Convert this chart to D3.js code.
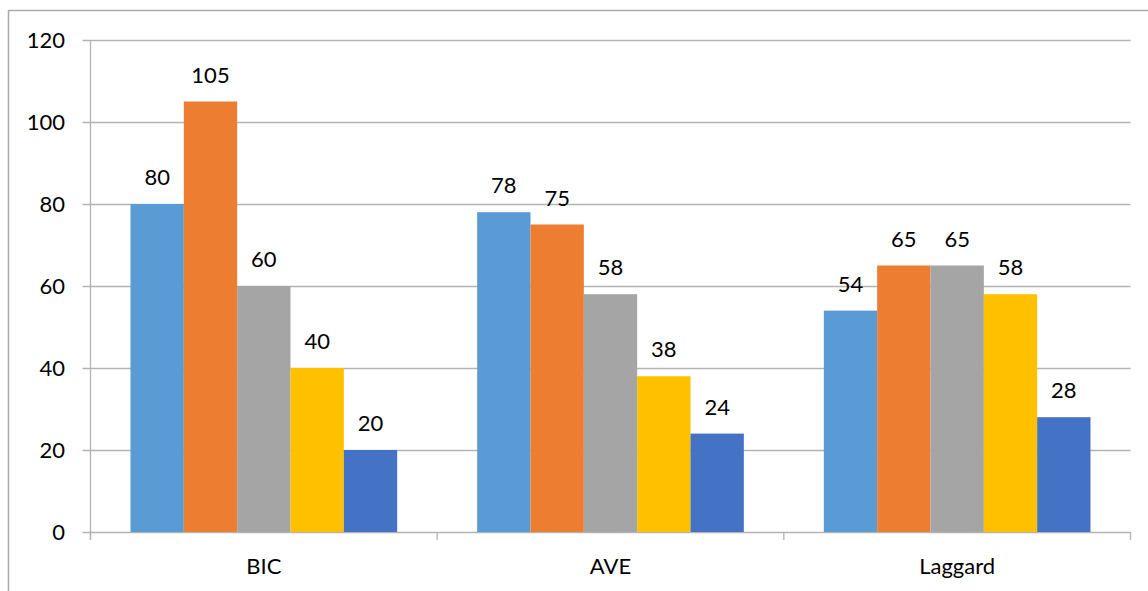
<!DOCTYPE html>
<html><head><meta charset="utf-8">
<script src="https://cdn.jsdelivr.net/npm/d3@7"></script>
<style>body{margin:0;background:#fff}svg{display:block}text{font-family:Lato,"Open Sans",sans-serif;fill:#000}</style>
</head><body>
<script>
const categories = ["BIC", "AVE", "Laggard"];
const seriesNames = ["S1", "S2", "S3", "S4", "S5"];
const s1 = [80, 78, 54];
const s2 = [105, 75, 65];
const s3 = [60, 58, 65];
const s4 = [40, 38, 58];
const s5 = [20, 24, 28];
const seriesValues = [s1, s2, s3, s4, s5];
const colors = ["#5B9BD5", "#ED7D31", "#A5A5A5", "#FFC000", "#4472C4"];
const yTicks = [0, 20, 40, 60, 80, 100, 120];

(function () {
const W = 1148, H = 591;
const svg = d3.select("body").append("svg").attr("width", W).attr("height", H);

// outer frame (cut off at right/bottom)
svg.append("path").attr("d", "M8.5,591 L8.5,10.5 L1148,10.5")
  .attr("fill", "none").attr("stroke", "#ababab").attr("stroke-width", 1.5);

const pLeft = 90.5, pRight = 1130.5, pTop = 40, pBottom = 532;
const x = d3.scaleBand().domain(categories).range([pLeft, pRight]).paddingInner(0).paddingOuter(0);
const xs = d3.scaleBand().domain(seriesNames).range([0, x.bandwidth()]).paddingInner(0).paddingOuter(0.75);
const y = d3.scaleLinear().domain([0, 120]).range([pBottom, pTop]);

const grid = "#b3b3b3";
svg.append("g").selectAll("line").data(yTicks).join("line")
  .attr("x1", pLeft - 8).attr("x2", pRight)
  .attr("y1", d => Math.round(y(d)) + 0.5).attr("y2", d => Math.round(y(d)) + 0.5)
  .attr("stroke", grid).attr("stroke-width", 1.3);
svg.append("line").attr("x1", pLeft).attr("x2", pLeft).attr("y1", pTop).attr("y2", pBottom + 8)
  .attr("stroke", grid).attr("stroke-width", 1.3);
const bounds = categories.map(c => x(c)).concat([x(categories[categories.length - 1]) + x.bandwidth()]);
svg.append("g").selectAll("line").data(bounds).join("line")
  .attr("x1", d => d).attr("x2", d => d).attr("y1", pBottom).attr("y2", pBottom + 8)
  .attr("stroke", grid).attr("stroke-width", 1.3);

svg.append("g").selectAll("text").data(yTicks).join("text")
  .attr("x", 65).attr("y", d => y(d) + 8).attr("text-anchor", "end")
  .attr("font-size", 22).text(d => d);

const data = [];
categories.forEach((c, i) => seriesNames.forEach((s, j) => data.push({c, s, j, v: seriesValues[j][i]})));
svg.append("g").selectAll("rect").data(data).join("rect")
  .attr("x", d => x(d.c) + xs(d.s)).attr("width", xs.bandwidth())
  .attr("y", d => y(d.v)).attr("height", d => y(0) - y(d.v))
  .attr("fill", d => colors[d.j]);

svg.append("g").selectAll("text").data(data).join("text")
  .attr("x", d => x(d.c) + xs(d.s) + xs.bandwidth() / 2).attr("y", d => y(d.v) - 19)
  .attr("text-anchor", "middle").attr("font-size", 22).text(d => d.v);

svg.append("g").selectAll("text").data(categories).join("text")
  .attr("x", d => x(d) + x.bandwidth() / 2).attr("y", 574)
  .attr("text-anchor", "middle").attr("font-size", 22).text(d => d);
})();
</script>
</body></html>
